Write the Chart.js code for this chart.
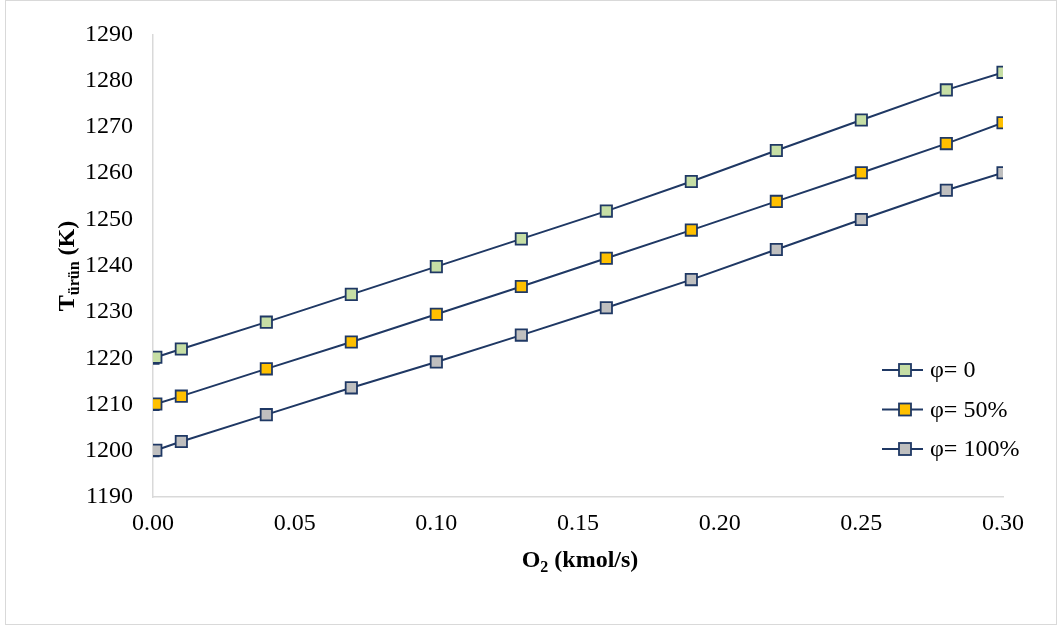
<!DOCTYPE html>
<html>
<head>
<meta charset="utf-8">
<script src="https://cdn.jsdelivr.net/npm/chart.js@4.4.1/dist/chart.umd.min.js"></script>
<style>
  html, body { margin: 0; padding: 0; background: #fff; }
  #wrap { position: relative; width: 1058px; height: 628px; }
</style>
</head>
<body>
<div id="wrap"><canvas id="c" width="1058" height="628"></canvas></div>
<script>
// O2 feed rate (kmol/s)
const o2Flow = [0, 0.001, 0.01, 0.04, 0.07, 0.10, 0.13, 0.16, 0.19, 0.22, 0.25, 0.28, 0.30];
// Product temperature (K) for each φ
const tPhi0   = [1220, 1220.2, 1222, 1227.8, 1233.8, 1239.8, 1245.8, 1251.8, 1258.2, 1264.9, 1271.5, 1278, 1281.8];
const tPhi50  = [1210, 1210.1, 1211.8, 1217.7, 1223.5, 1229.5, 1235.5, 1241.6, 1247.7, 1253.9, 1260.1, 1266.4, 1270.9];
const tPhi100 = [1200, 1200.1, 1202, 1207.8, 1213.6, 1219.2, 1225, 1230.9, 1237, 1243.5, 1250, 1256.3, 1260.1];
const seriesLabels = ['φ= 0', 'φ= 50%', 'φ= 100%'];
const xTicks = [0, 0.05, 0.10, 0.15, 0.20, 0.25, 0.30];
const yTicks = [1190, 1200, 1210, 1220, 1230, 1240, 1250, 1260, 1270, 1280, 1290];

const NAVY = '#1f3864';
const fills = ['#c6dea5', '#ffc000', '#bfbfbf'];
const SERIF = '"Liberation Serif", "Times New Roman", serif';

function toPoints(ys) { return o2Flow.map((x, i) => ({ x: x, y: ys[i] })); }

const datasets = [tPhi0, tPhi50, tPhi100].map((ys, i) => ({
  label: seriesLabels[i],
  data: toPoints(ys),
  showLine: true,
  borderColor: NAVY,
  borderWidth: 2,
  pointStyle: 'rect',
  pointRadius: 8,
  pointHoverRadius: 8,
  pointBackgroundColor: fills[i],
  pointBorderColor: NAVY,
  pointBorderWidth: 1.8,
  tension: 0
}));

// Frame, axis titles with subscripts, and the line-with-marker legend
const decor = {
  id: 'decor',
  beforeDraw(chart) {
    const ctx = chart.ctx;
    ctx.save();
    ctx.fillStyle = '#fff';
    ctx.fillRect(0, 0, chart.width, chart.height);
    ctx.strokeStyle = '#d9d9d9';
    ctx.lineWidth = 1;
    ctx.strokeRect(5.5, 0.5, 1051, 624);
    ctx.restore();
  },
  afterDraw(chart) {
    const ctx = chart.ctx;
    ctx.save();
    ctx.fillStyle = '#000';
    ctx.textBaseline = 'alphabetic';

    // x-axis title: O2 (kmol/s)
    const big = 'bold 24px ' + SERIF, small = 'bold 16px ' + SERIF;
    ctx.font = big; const wO = ctx.measureText('O').width;
    const wRest = ctx.measureText(' (kmol/s)').width;
    ctx.font = small; const w2 = ctx.measureText('2').width;
    let x = 580 - (wO + w2 + wRest) / 2, y = 567;
    ctx.font = big; ctx.fillText('O', x, y); x += wO;
    ctx.font = small; ctx.fillText('2', x, y + 5); x += w2;
    ctx.font = big; ctx.fillText(' (kmol/s)', x, y);

    // y-axis title: Türün (K), rotated
    ctx.save();
    ctx.translate(74, 266);
    ctx.rotate(-Math.PI / 2);
    ctx.font = big; const wT = ctx.measureText('T').width;
    const wK = ctx.measureText(' (K)').width;
    ctx.font = small; const wSub = ctx.measureText('ürün').width;
    let tx = -(wT + wSub + wK) / 2;
    ctx.font = big; ctx.fillText('T', tx, 0); tx += wT;
    ctx.font = small; ctx.fillText('ürün', tx, 5); tx += wSub;
    ctx.font = big; ctx.fillText(' (K)', tx, 0);
    ctx.restore();

    // legend
    const rows = [370, 409.5, 449];
    ctx.font = '24px ' + SERIF;
    ctx.textBaseline = 'middle';
    rows.forEach((ry, i) => {
      ctx.strokeStyle = NAVY;
      ctx.lineWidth = 2;
      ctx.beginPath();
      ctx.moveTo(882, ry); ctx.lineTo(923, ry);
      ctx.stroke();
      ctx.fillStyle = fills[i];
      ctx.lineWidth = 1.8;
      ctx.fillRect(899, ry - 6, 12, 12);
      ctx.strokeRect(899, ry - 6, 12, 12);
      ctx.fillStyle = '#000';
      ctx.fillText(seriesLabels[i], 930, ry + 1);
    });
    ctx.restore();
  }
};

new Chart(document.getElementById('c'), {
  type: 'scatter',
  data: { datasets: datasets },
  plugins: [decor],
  options: {
    responsive: false,
    animation: false,
    layout: { padding: { left: 0, top: 31, right: 55, bottom: 91 } },
    plugins: { legend: { display: false }, tooltip: { enabled: false } },
    scales: {
      x: {
        type: 'linear',
        min: 0, max: 0.30,
        afterFit(s) { s.height = 40; },
        afterBuildTicks(s) { s.ticks = xTicks.map(v => ({ value: v })); },
        grid: { display: false, drawTicks: false },
        border: { display: true, color: '#d9d9d9', width: 1.5 },
        ticks: {
          padding: 12,
          color: '#000',
          font: { family: SERIF, size: 24 },
          callback: v => Number(v).toFixed(2)
        }
      },
      y: {
        type: 'linear',
        min: 1190, max: 1290,
        afterFit(s) { s.width = 153; },
        afterBuildTicks(s) { s.ticks = yTicks.map(v => ({ value: v })); },
        grid: { display: false, drawTicks: false },
        border: { display: true, color: '#d9d9d9', width: 1.5 },
        ticks: {
          padding: 20,
          color: '#000',
          font: { family: SERIF, size: 24 },
          callback: v => String(v)
        }
      }
    }
  }
});
</script>
</body>
</html>
